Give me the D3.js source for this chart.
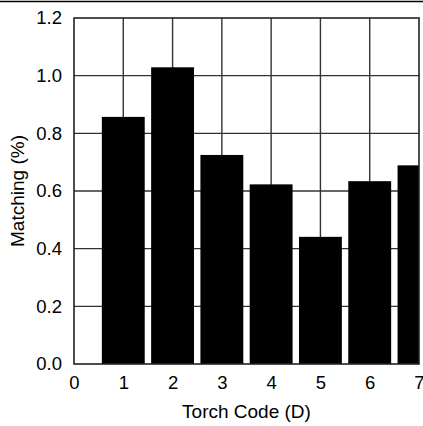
<!DOCTYPE html>
<html>
<head>
<meta charset="utf-8">
<script src="https://cdn.jsdelivr.net/npm/d3@7"></script>
<style>
  body { margin: 0; background: #fff; }
  svg { display: block; font-family: "Liberation Sans", Arial, sans-serif; }
</style>
</head>
<body>
<svg width="423" height="426"></svg>
<script>
var codes = [1, 2, 3, 4, 5, 6, 7];
var matching = [0.857, 1.029, 0.725, 0.623, 0.441, 0.634, 0.689];
var xTicks = [0, 1, 2, 3, 4, 5, 6, 7];
var yTicks = [0, 0.2, 0.4, 0.6, 0.8, 1.0, 1.2];

var svg = d3.select("svg"),
    margin = {top: 18, right: 4, bottom: 62, left: 74},
    width = +svg.attr("width") - margin.left - margin.right,
    height = +svg.attr("height") - margin.top - margin.bottom;

// rule across the top of the page
svg.append("line")
    .attr("x1", 0).attr("x2", +svg.attr("width"))
    .attr("y1", 1.5).attr("y2", 1.5)
    .attr("stroke", "#000").attr("stroke-width", 1.6);

var g = svg.append("g").attr("transform", "translate(" + margin.left + "," + margin.top + ")");

var x = d3.scaleLinear().domain([0, 7]).range([0, width]);
var y = d3.scaleLinear().domain([0, 1.2]).range([height, 0]);

g.append("clipPath").attr("id", "plot")
  .append("rect").attr("width", width).attr("height", height);

// grid
g.append("g").selectAll("line.v")
    .data(xTicks.slice(1, -1))
  .enter().append("line")
    .attr("x1", function(d) { return x(d); }).attr("x2", function(d) { return x(d); })
    .attr("y1", 0).attr("y2", height)
    .attr("stroke", "#333").attr("stroke-width", 1.4);

g.append("g").selectAll("line.h")
    .data(yTicks.slice(1, -1))
  .enter().append("line")
    .attr("x1", 0).attr("x2", width)
    .attr("y1", function(d) { return y(d); }).attr("y2", function(d) { return y(d); })
    .attr("stroke", "#333").attr("stroke-width", 1.4);

// bars
var bw = 0.87;
g.append("g").attr("clip-path", "url(#plot)")
  .selectAll("rect")
    .data(codes)
  .enter().append("rect")
    .attr("x", function(d) { return x(d - bw / 2); })
    .attr("width", x(bw) - x(0))
    .attr("y", function(d, i) { return y(matching[i]); })
    .attr("height", function(d, i) { return height - y(matching[i]); })
    .attr("fill", "#000");

// frame
g.append("rect")
    .attr("width", width).attr("height", height)
    .attr("fill", "none").attr("stroke", "#222").attr("stroke-width", 1.6);

// axes
var xa = g.append("g")
    .attr("transform", "translate(0," + height + ")")
    .call(d3.axisBottom(x).tickValues(xTicks).tickSize(0).tickPadding(12).tickFormat(d3.format("d")));
xa.select(".domain").remove();
xa.selectAll("text").attr("font-size", 18.5).attr("fill", "#000").attr("font-family", "Liberation Sans, Arial, sans-serif");

var ya = g.append("g")
    .call(d3.axisLeft(y).tickValues(yTicks).tickSize(0).tickPadding(12).tickFormat(d3.format(".1f")));
ya.select(".domain").remove();
ya.selectAll("text").attr("font-size", 18.5).attr("fill", "#000").attr("font-family", "Liberation Sans, Arial, sans-serif");

g.append("text")
    .attr("x", width / 2)
    .attr("y", height + 54)
    .attr("text-anchor", "middle")
    .attr("font-size", 19)
    .text("Torch Code (D)");

g.append("text")
    .attr("transform", "rotate(-90)")
    .attr("x", -(y(0.6)) )
    .attr("y", -50)
    .attr("text-anchor", "middle")
    .attr("font-size", 19)
    .text("Matching (%)");
</script>
</body>
</html>
